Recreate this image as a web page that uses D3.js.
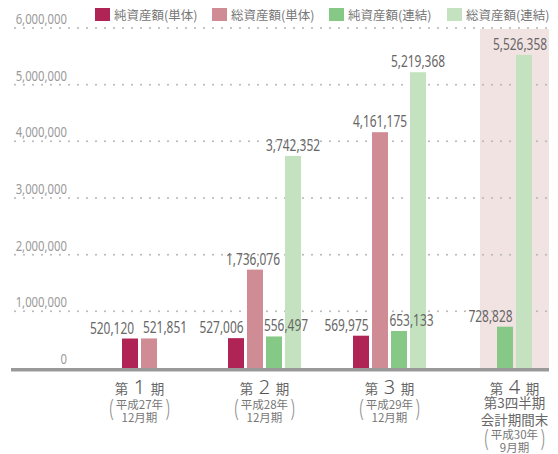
<!DOCTYPE html>
<html><head><meta charset="utf-8">
<script src="https://cdn.jsdelivr.net/npm/d3@7"></script>
<style>
html,body{margin:0;padding:0;background:#fff;}
svg{display:block;}
.num{font-family:"Noto Sans","Open Sans",sans-serif;}
.jp{font-family:"Noto Sans CJK JP","Noto Sans",sans-serif;}
</style></head><body>
<svg id="c" width="558" height="454"></svg>
<script>
const periods = ["第1期","第2期","第3期","第4期"];
const periodNums = ["1","2","3","4"];
const periodSub = [["平成27年","12月期"],["平成28年","12月期"],["平成29年","12月期"],["平成30年","9月期"]];
const period4Extra = ["第3四半期","会計期間末"];
const seriesNames = ["純資産額(単体)","総資産額(単体)","純資産額(連結)","総資産額(連結)"];
const netSingle   = [520120, 527006, 569975, null];
const totalSingle = [521851, 1736076, 4161175, null];
const netConsol   = [null, 556497, 653133, 728828];
const totalConsol = [null, 3742352, 5219368, 5526358];
const yTicks = [0,1000000,2000000,3000000,4000000,5000000,6000000];

const seriesValues = [netSingle,totalSingle,netConsol,totalConsol];
const colors = ["#b02455","#d08c94","#86c986","#c4e2bf"];
// label horizontal nudges (layout only)
const labelDx = [[-18,-14.5,-14.5,0],[16,-2,0,0],[0,12,12.5,-14.5],[0,0,0,-4]];

const svg = d3.select("#c");
const y = d3.scaleLinear().domain([0,6000000]).range([368,28]);
const x = d3.scaleBand().domain(periods).range([77,577]).padding(0);
const fmt = d3.format(",");

function ntext(px, py, str, size, anchor, fill, sx){
  return svg.append("text").attr("class","num")
    .attr("transform",`translate(${px},${py}) scale(${sx||0.79},1)`)
    .attr("text-anchor",anchor).attr("font-size",size).attr("fill",fill).text(str);
}

// shaded area for 4th period
svg.append("rect").attr("x", x("第4期")+x.bandwidth()/2-34.5).attr("y", y(6000000)+1)
  .attr("width",69).attr("height", y(0)-y(6000000)-1).attr("fill","#f2e3e3");

// gridlines
yTicks.filter(t=>t>0).forEach(t=>{
  svg.append("line").attr("x1",15).attr("x2",550).attr("y1",y(t)).attr("y2",y(t))
    .attr("stroke","#b4b4b4").attr("stroke-width",2).attr("stroke-linecap","round")
    .attr("stroke-dasharray","0 9");
});
yTicks.forEach(t=>{
  ntext(67, y(t)-4, fmt(t), 14.5, "end", "#9a9a9a", 0.78);
});

// bars
const pitch = 19, gap = 3;
periods.forEach((p,gi)=>{
  const present = seriesValues.map((s,si)=>s[gi]!=null?si:null).filter(v=>v!=null);
  const n = present.length;
  const c = x(p)+x.bandwidth()/2;
  const inner = d3.scaleBand().domain(present).range([c-n*pitch/2+gap/2, c+n*pitch/2-gap/2]).paddingInner(gap/pitch).paddingOuter(0);
  present.forEach(si=>{
    const v = seriesValues[si][gi];
    svg.append("rect").attr("x",inner(si)).attr("y",y(v)).attr("width",inner.bandwidth())
      .attr("height",y(0)-y(v)).attr("fill",colors[si]);
  });
  present.forEach(si=>{
    const v = seriesValues[si][gi];
    ntext(inner(si)+inner.bandwidth()/2+labelDx[si][gi], y(v)-5, fmt(v), 15.5, "middle", "#666", 0.77);
  });
});

// baseline
svg.append("line").attr("x1",11).attr("x2",549).attr("y1",y(0)+1.7).attr("y2",y(0)+1.7)
  .attr("stroke","#999").attr("stroke-width",3.4);

// legend
const legX = [95,212,329,447];
seriesNames.forEach((nm,i)=>{
  svg.append("rect").attr("x",legX[i]).attr("y",8).attr("width",15).attr("height",13).attr("fill",colors[i]);
  svg.append("text").attr("class","jp").attr("x",legX[i]+19).attr("y",19.5).attr("font-size",12.5)
    .attr("fill","#777").text(nm);
});

// x labels
periods.forEach((p,gi)=>{
  const c = x(p)+x.bandwidth()/2;
  svg.append("text").attr("class","jp").attr("x",c-18).attr("y",393.5).attr("text-anchor","middle")
    .attr("font-size",13.5).attr("fill","#666").text("第");
  svg.append("text").attr("class","num").attr("x",c).attr("y",393.5).attr("text-anchor","middle")
    .attr("font-size",20).attr("font-weight",300).attr("fill","#555").text(periodNums[gi]);
  svg.append("text").attr("class","jp").attr("x",c+18).attr("y",393.5).attr("text-anchor","middle")
    .attr("font-size",13.5).attr("fill","#666").text("期");
  let yy = 409;
  if(gi===3){
    period4Extra.forEach((s,k)=>{
      svg.append("text").attr("class","jp").attr("x",c).attr("y",408+k*16.5).attr("text-anchor","middle")
        .attr("font-size",13.5).attr("fill","#666").text(s);
    });
    yy = 438.5;
  }
  periodSub[gi].forEach((s,k)=>{
    svg.append("text").attr("class","jp").attr("x",c).attr("y",yy+k*13).attr("text-anchor","middle")
      .attr("font-size",11.5).attr("fill","#777").text(s);
  });
  const pw = 28;
  [["(",-pw],[")",pw]].forEach(([ch,dx])=>{
    svg.append("text").attr("class","num")
      .attr("transform",`translate(${c+dx},${yy+7}) scale(0.8,1.25)`)
      .attr("text-anchor","middle").attr("font-size",19).attr("font-weight",300).attr("fill","#888").text(ch);
  });
});
</script>
</body></html>
